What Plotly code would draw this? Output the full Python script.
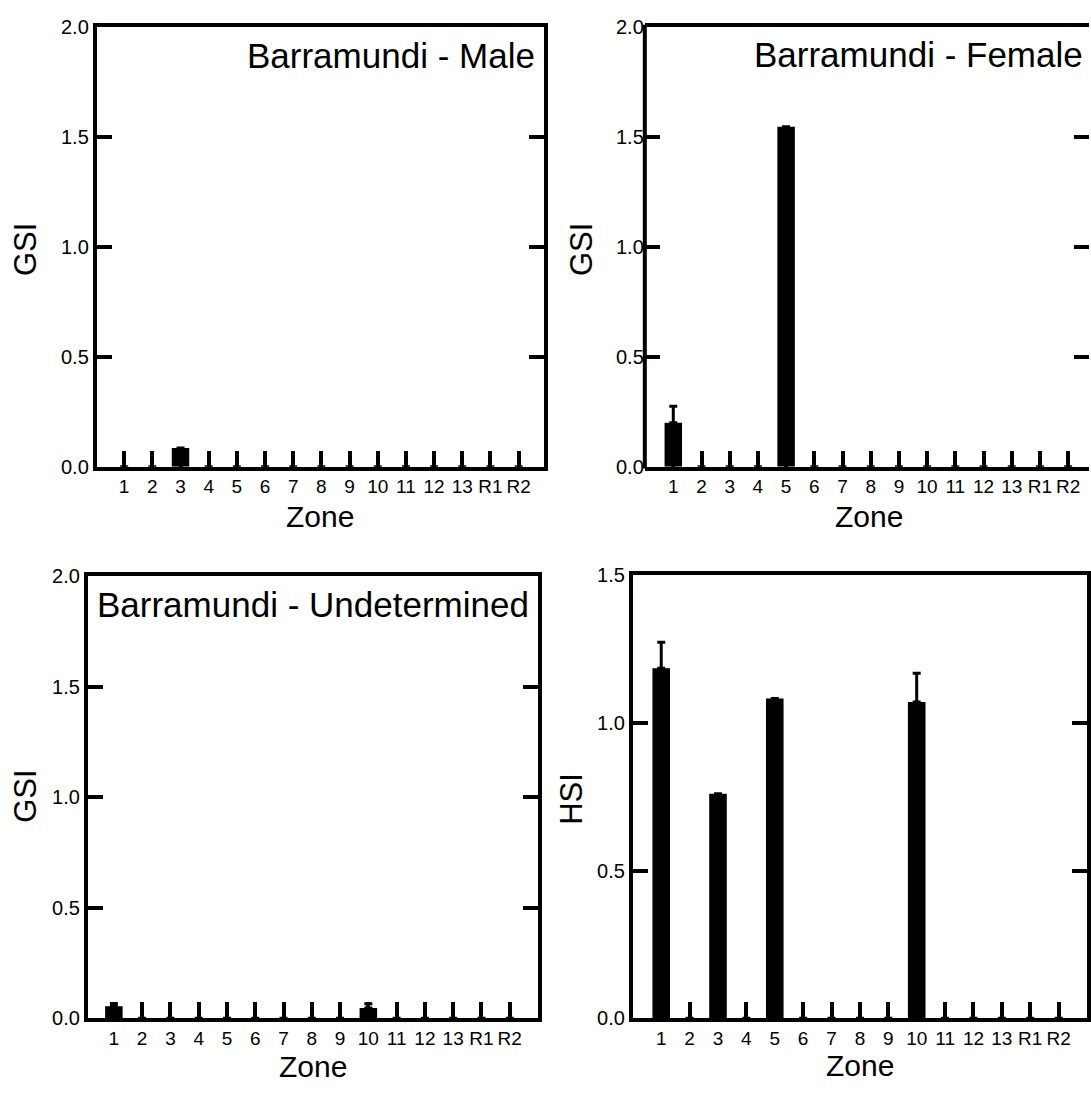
import plotly.graph_objects as go

W, H = 1091, 1095

# ---- data ----
zones = ["1", "2", "3", "4", "5", "6", "7", "8", "9", "10", "11", "12", "13", "R1", "R2"]

male_gsi = [0, 0, 0.085, 0, 0, 0, 0, 0, 0, 0, 0, 0, 0, 0, 0]
male_gsi_se = [None] * 15

female_gsi = [0.20, 0, 0, 0, 1.545, 0, 0, 0, 0, 0, 0, 0, 0, 0, 0]
female_gsi_se = [0.075, None, None, None, None, None, None, None, None, None, None, None, None, None, None]

undet_gsi = [0.055, 0, 0, 0, 0, 0, 0, 0, 0, 0.047, 0, 0, 0, 0, 0]
undet_gsi_se = [0.012, None, None, None, None, None, None, None, None, 0.019, None, None, None, None, None]

hsi = [1.186, 0, 0.761, 0, 1.083, 0, 0, 0, 0, 1.071, 0, 0, 0, 0, 0]
hsi_se = [0.088, None, None, None, None, None, None, None, None, 0.098, None, None, None, None, None]

panel_titles = ["Barramundi - Male", "Barramundi - Female", "Barramundi - Undetermined", None]
y_titles = ["GSI", "GSI", "GSI", "HSI"]
y_ticks_gsi = [0, 0.5, 1.0, 1.5, 2.0]
y_ticks_hsi = [0, 0.5, 1.0, 1.5]
x_title = "Zone"

FONT = "Arial, Liberation Sans, sans-serif"

# panel geometry in pixels: (left, right, top, bottom), x-range
panels = [
    dict(px=(97, 545, 16, 465), xr=(-0.97, 14.9), y=male_gsi, e=male_gsi_se, ymax=2.0, yt=y_ticks_gsi,
         title_xy=(538, 45), ytitle_xy=(25, 243), xtitle_y=516, showleft=True),
    dict(px=(646, 1091, 16, 465), xr=(-1.01, 14.74), y=female_gsi, e=female_gsi_se, ymax=2.0, yt=y_ticks_gsi,
         title_xy=(1087, 44), ytitle_xy=(582, 243), xtitle_y=516, showleft=False),
    dict(px=(88, 539, 577, 1028), xr=(-0.92, 15.0), y=undet_gsi, e=undet_gsi_se, ymax=2.0, yt=y_ticks_gsi,
         title_xy=(532, 606), ytitle_xy=(26, 801), xtitle_y=1077, showleft=True),
    dict(px=(634, 1089, 576, 1028), xr=(-1.0, 15.0), y=hsi, e=hsi_se, ymax=1.5, yt=y_ticks_hsi,
         title_xy=None, ytitle_xy=(573, 804), xtitle_y=1076, showleft=True),
]

fig = go.Figure()
annotations = []
shapes = []

for i, p in enumerate(panels):
    n = "" if i == 0 else str(i + 1)
    l, r, t, b = p["px"]
    xd = [l / W, r / W]
    yd = [1 - b / H, 1 - t / H]

    fig.add_trace(go.Bar(
        x=zones, y=p["y"], width=0.62,
        marker=dict(color="black", line=dict(width=0)),
        error_y=dict(type="data", symmetric=False, array=p["e"],
                     arrayminus=[0] * len(zones), color="black", thickness=3, width=4),
        xaxis="x" + n, yaxis="y" + n, showlegend=False,
    ))

    fig.layout["xaxis" + n] = dict(
        domain=xd, anchor="y" + n, type="category", range=list(p["xr"]),
        categoryorder="array", categoryarray=zones,
        ticks="inside", ticklen=16, tickwidth=3.5, tickcolor="black",
        showline=True, linewidth=4, linecolor="black", mirror=True,
        showgrid=False, zeroline=False,
        tickfont=dict(family=FONT, size=19, color="black"),
    )
    fig.layout["yaxis" + n] = dict(
        domain=yd, anchor="x" + n, range=[0, p["ymax"]],
        tickvals=p["yt"], ticktext=["%.1f" % v for v in p["yt"]],
        ticks="inside", ticklen=15, tickwidth=4, tickcolor="black",
        showline=p["showleft"], linewidth=4, linecolor="black", mirror="ticks",
        showgrid=False, zeroline=False,
        tickfont=dict(family=FONT, size=20, color="black"),
    )
    if not p["showleft"]:
        shapes.append(dict(type="line", xref="paper", yref="paper",
                           x0=xd[0], x1=xd[0], y0=yd[0] - 2 / H, y1=yd[1] + 2 / H,
                           line=dict(color="black", width=4)))

    if panel_titles[i]:
        tx, ty = p["title_xy"]
        annotations.append(dict(text=panel_titles[i], xref="paper", yref="paper",
                                x=tx / W, y=1 - ty / H, xanchor="right", yanchor="middle",
                                showarrow=False, font=dict(family=FONT, size=35, color="black")))
    yx, yy = p["ytitle_xy"]
    annotations.append(dict(text=y_titles[i], xref="paper", yref="paper",
                            x=yx / W, y=1 - yy / H, xanchor="center", yanchor="middle",
                            textangle=-90, showarrow=False,
                            font=dict(family=FONT, size=31, color="black")))
    annotations.append(dict(text=x_title, xref="paper", yref="paper",
                            x=(l + (r if i != 1 else 1095)) / 2 / W, y=1 - p["xtitle_y"] / H,
                            xanchor="center", yanchor="middle", showarrow=False,
                            font=dict(family=FONT, size=30, color="black")))

fig.update_layout(
    width=W, height=H, margin=dict(l=0, r=0, t=0, b=0),
    paper_bgcolor="white", plot_bgcolor="white",
    annotations=annotations, shapes=shapes, showlegend=False,
)

fig.write_html("out.html")
